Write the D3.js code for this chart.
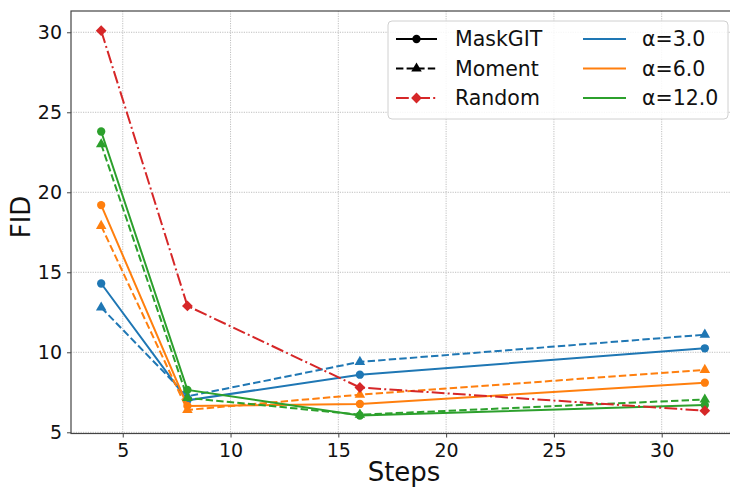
<!DOCTYPE html>
<html>
<head>
<meta charset="utf-8">
<script src="https://cdn.jsdelivr.net/npm/d3@7"></script>
<style>
  body { margin: 0; background: #fff; }
  svg { display: block; font-family: "DejaVu Sans", sans-serif; }
</style>
</head>
<body>
<svg id="chart" width="730" height="489"></svg>
<script>
'use strict';

// Data
const steps = [4, 8, 16, 32];
const alphaLabels = ['α=3.0', 'α=6.0', 'α=12.0'];
const alphaColors = ['#1f77b4', '#ff7f0e', '#2ca02c'];
const maskgitFid = [
    [14.3, 7.0, 8.6, 10.25],
    [19.2, 6.65, 6.77, 8.1],
    [23.8, 7.65, 6.05, 6.7]
];
const momentFid = [
    [12.8, 7.25, 9.4, 11.1],
    [17.9, 6.4, 7.35, 8.9],
    [23.0, 7.15, 6.1, 7.05]
];
const randomFid = [30.1, 12.9, 7.8, 6.35];
const xTicks = [5, 10, 15, 20, 25, 30];
const yTicks = [5, 10, 15, 20, 25, 30];

const svg = d3.select('#chart');
const plot = { left: 71, right: 735, top: 11, bottom: 433.5 };

const x = d3.scaleLinear().domain([2.6, 33.4]).range([plot.left, plot.right]);
const y = d3.scaleLinear().domain([4.925, 31.33]).range([plot.bottom, plot.top]);

// grid
const grid = svg.append('g');
grid.selectAll('.gx').data(xTicks).join('line')
    .attr('x1', d => x(d)).attr('x2', d => x(d))
    .attr('y1', plot.top).attr('y2', plot.bottom)
    .attr('stroke', '#b0b0b0').attr('stroke-width', 0.8)
    .attr('stroke-dasharray', '1.2,1.2');
grid.selectAll('.gy').data(yTicks).join('line')
    .attr('x1', plot.left).attr('x2', plot.right)
    .attr('y1', d => y(d)).attr('y2', d => y(d))
    .attr('stroke', '#b0b0b0').attr('stroke-width', 0.8)
    .attr('stroke-dasharray', '1.2,1.2');

// axes
const xAxis = svg.append('g')
    .attr('transform', `translate(0,${plot.bottom})`)
    .call(d3.axisBottom(x).tickValues(xTicks).tickSize(4).tickPadding(6).tickSizeOuter(0));
const yAxis = svg.append('g')
    .attr('transform', `translate(${plot.left},0)`)
    .call(d3.axisLeft(y).tickValues(yTicks).tickSize(4).tickPadding(5).tickSizeOuter(0));
[xAxis, yAxis].forEach(a => {
    a.select('.domain').remove();
    a.selectAll('line').attr('stroke', '#444');
    a.selectAll('text').attr('font-size', 19).attr('fill', '#111')
        .attr('font-family', '"DejaVu Sans", sans-serif');
});

// spines
svg.append('rect')
    .attr('x', plot.left).attr('y', plot.top)
    .attr('width', plot.right - plot.left).attr('height', plot.bottom - plot.top)
    .attr('fill', 'none').attr('stroke', '#444').attr('stroke-width', 1.2);

// axis labels
svg.append('text').attr('x', (plot.left + 729) / 2 + 4).attr('y', 481)
    .attr('text-anchor', 'middle').attr('font-size', 26).attr('fill', '#111').text('Steps');
svg.append('text').attr('transform', 'translate(30,217) rotate(-90)')
    .attr('text-anchor', 'middle').attr('font-size', 26).attr('fill', '#111').text('FID');

// lines
svg.append('clipPath').attr('id', 'clip').append('rect')
    .attr('x', plot.left).attr('y', plot.top)
    .attr('width', plot.right - plot.left).attr('height', plot.bottom - plot.top);
const g = svg.append('g').attr('clip-path', 'url(#clip)');

const line = d3.line().x((d, i) => x(steps[i])).y(d => y(d));
const sym = {
    circle: d3.symbol().type(d3.symbolCircle).size(54),
    triangle: d3.symbol().type(d3.symbolTriangle).size(48),
    diamond: d3.symbol().type(d3.symbolSquare).size(58)
};
const rot = { circle: 0, triangle: 0, diamond: 45 };

function drawSeries(vals, color, dash, shape) {
    g.append('path').datum(vals)
        .attr('d', line).attr('fill', 'none')
        .attr('stroke', color).attr('stroke-width', 2)
        .attr('stroke-dasharray', dash);
    g.selectAll(null).data(vals).join('path')
        .attr('d', sym[shape])
        .attr('transform', (d, i) => `translate(${x(steps[i])},${y(d)}) rotate(${rot[shape]})`)
        .attr('fill', color);
}

alphaColors.forEach((c, k) => {
    drawSeries(maskgitFid[k], c, null, 'circle');
    drawSeries(momentFid[k], c, '7.4,3.2', 'triangle');
});
drawSeries(randomFid, '#d62728', '12.8,3.2,2,3.2', 'diamond');

// legend
const leg = svg.append('g');
leg.append('rect')
    .attr('x', 388).attr('y', 21).attr('width', 340).attr('height', 98)
    .attr('rx', 4).attr('fill', '#fff').attr('fill-opacity', 0.85)
    .attr('stroke', '#d0d0d0').attr('stroke-width', 1);

const leftItems = [
    { label: 'MaskGIT', color: '#000', dash: null, shape: 'circle' },
    { label: 'Moment', color: '#000', dash: '7.4,3.2', shape: 'triangle' },
    { label: 'Random', color: '#d62728', dash: '12.8,3.2,2,3.2', shape: 'diamond' }
];
const rowY = [39, 68.5, 98];

leftItems.forEach((it, i) => {
    const ry = rowY[i];
    leg.append('line').attr('x1', 396).attr('x2', 437).attr('y1', ry).attr('y2', ry)
        .attr('stroke', it.color).attr('stroke-width', 2).attr('stroke-dasharray', it.dash);
    leg.append('path').attr('d', sym[it.shape]).attr('fill', it.color)
        .attr('transform', `translate(416.5,${ry}) rotate(${rot[it.shape]})`);
    leg.append('text').attr('x', 455).attr('y', ry).attr('dy', '0.36em')
        .attr('font-size', 20.5).attr('fill', '#111').text(it.label);
});
alphaLabels.forEach((lab, i) => {
    const ry = rowY[i];
    leg.append('line').attr('x1', 583).attr('x2', 626).attr('y1', ry).attr('y2', ry)
        .attr('stroke', alphaColors[i]).attr('stroke-width', 2);
    leg.append('text').attr('x', 642).attr('y', ry).attr('dy', '0.36em')
        .attr('font-size', 20.5).attr('fill', '#111').text(lab);
});
</script>
</body>
</html>
